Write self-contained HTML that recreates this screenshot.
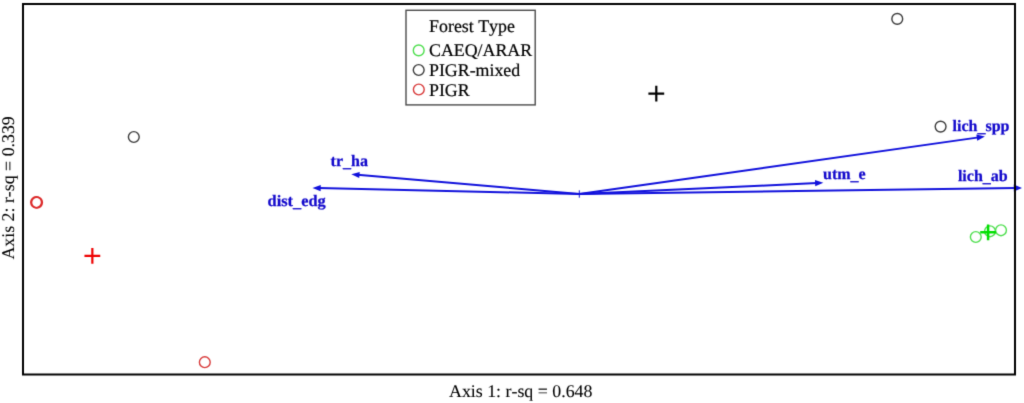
<!DOCTYPE html>
<html><head><meta charset="utf-8"><style>
html,body{margin:0;padding:0;background:#fff;width:1024px;height:403px;overflow:hidden}
svg{display:block} text{font-kerning:none;text-rendering:geometricPrecision}
.r{font-family:"Liberation Serif","Times New Roman",serif;font-size:17.85px;fill:#000;stroke:#000;stroke-width:0.2px}
.a{stroke-width:0.08px}
.b{font-family:"Liberation Serif","Times New Roman",serif;font-size:16px;font-weight:bold;fill:#1208cc;stroke:#1208cc;stroke-width:0.25px}
</style></head><body>
<svg width="1024" height="403" viewBox="0 0 1024 403">
<defs><filter id="bl" color-interpolation-filters="sRGB" filterUnits="userSpaceOnUse" x="0" y="0" width="1024" height="403"><feConvolveMatrix order="3" kernelMatrix="0.0144 0.0912 0.0144 0.0912 0.5776 0.0912 0.0144 0.0912 0.0144" edgeMode="duplicate" preserveAlpha="true"/></filter></defs>
<g filter="url(#bl)">
<rect x="0" y="0" width="1024" height="403" fill="#fff"/>
<rect x="406" y="10.3" width="129.2" height="94.6" fill="none" stroke="#4a4a4a" stroke-width="1.4"/>
<text class="r" transform="translate(429.1,32.1) scale(1,1.0)">Forest Type</text>
<text class="r" transform="translate(429.0,56.4) scale(1,1.0)">CAEQ/ARAR</text>
<text class="r" transform="translate(429.0,76.2) scale(1,1.0)">PIGR-mixed</text>
<text class="r" transform="translate(429.0,96.4) scale(1,1.0)">PIGR</text>
<circle cx="418.7" cy="50.4" r="5.4" fill="none" stroke="#4ede4e" stroke-width="1.4"/>
<circle cx="418.7" cy="70.0" r="5.4" fill="none" stroke="#3c3c3c" stroke-width="1.4"/>
<circle cx="418.8" cy="89.5" r="5.4" fill="none" stroke="#d83a3a" stroke-width="1.4"/>
<line x1="579.3" y1="194.0" x2="978.76" y2="137.37" stroke="#1010dc" stroke-width="2.0"/>
<polygon points="984.90,136.50 977.22,140.72 976.35,134.58" fill="#1010dc"/>
<line x1="579.3" y1="194.0" x2="1015.80" y2="188.08" stroke="#1010dc" stroke-width="2.0"/>
<polygon points="1022.00,188.00 1013.85,191.61 1013.75,184.61" fill="#1010dc"/>
<line x1="579.3" y1="194.0" x2="817.11" y2="183.08" stroke="#1010dc" stroke-width="2.0"/>
<polygon points="823.30,182.80 815.25,186.27 814.97,180.08" fill="#1010dc"/>
<line x1="579.3" y1="194.0" x2="357.48" y2="174.83" stroke="#1010dc" stroke-width="2.0"/>
<polygon points="351.30,174.30 359.74,171.92 359.20,178.09" fill="#1010dc"/>
<line x1="579.3" y1="194.0" x2="318.70" y2="188.04" stroke="#1010dc" stroke-width="2.0"/>
<polygon points="312.50,187.90 320.77,184.99 320.63,191.19" fill="#1010dc"/>
<path d="M579.3 190.3V197.7M575.6 194H583" stroke="#1010dc" stroke-width="1"/>
<text class="b" transform="translate(330.6,166) scale(1.0,1.0)">tr<tspan dy="1">_</tspan><tspan dy="-1">ha</tspan></text>
<text class="b" transform="translate(267.6,206) scale(1.02,1.0)">dist<tspan dy="1">_</tspan><tspan dy="-1">edg</tspan></text>
<text class="b" transform="translate(823,179) scale(1.0,1.0)">utm<tspan dy="1">_</tspan><tspan dy="-1">e</tspan></text>
<text class="b" transform="translate(957.9,181) scale(1.0,1.0)">lich<tspan dy="1">_</tspan><tspan dy="-1">ab</tspan></text>
<text class="b" transform="translate(952.6,131) scale(1.0,1.0)">lich<tspan dy="1">_</tspan><tspan dy="-1">spp</tspan></text>
<circle cx="897.26" cy="18.9" r="5.4" fill="none" stroke="#3c3c3c" stroke-width="1.4"/>
<circle cx="133.8" cy="137.0" r="5.4" fill="none" stroke="#3c3c3c" stroke-width="1.4"/>
<circle cx="940.6" cy="126.6" r="5.4" fill="none" stroke="#3c3c3c" stroke-width="1.4"/>
<circle cx="36.2" cy="202.3" r="5.4" fill="none" stroke="#dc2a2a" stroke-width="1.6"/>
<circle cx="36.9" cy="202.5" r="5.4" fill="none" stroke="#dc2a2a" stroke-width="1.6"/>
<circle cx="204.8" cy="362.2" r="5.4" fill="none" stroke="#d83a3a" stroke-width="1.4"/>
<circle cx="975.8" cy="237" r="5.4" fill="none" stroke="#4ede4e" stroke-width="1.4"/>
<circle cx="990" cy="231.3" r="5.4" fill="none" stroke="#4ede4e" stroke-width="1.4"/>
<circle cx="1001" cy="230.3" r="5.4" fill="none" stroke="#4ede4e" stroke-width="1.4"/>
<path d="M648.40 93.7H664.20M656.3 85.80V101.60" stroke="#000" stroke-width="2.2" fill="none"/>
<path d="M84.45 255.8H100.25M92.35 247.90V263.70" stroke="#ee0000" stroke-width="2.2" fill="none"/>
<path d="M980.20 232.3H996.00M988.1 224.40V240.20" stroke="#00e000" stroke-width="2.5" fill="none"/>
<rect x="23" y="4" width="992" height="370.5" fill="none" stroke="#000" stroke-width="2"/>
<text class="r a" transform="translate(449,396.5) scale(1,1.0)">Axis 1: r-sq = 0.648</text>
<text class="r a" transform="translate(13.8,259.6) rotate(-90) scale(1,1.0)">Axis 2: r-sq = 0.339</text>
</g>
</svg>
</body></html>
